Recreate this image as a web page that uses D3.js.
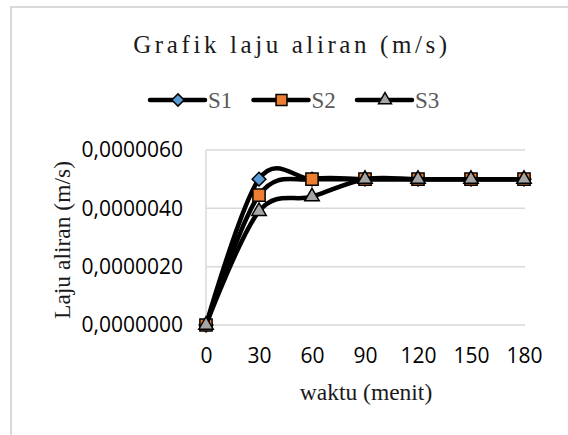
<!DOCTYPE html>
<html>
<head>
<meta charset="utf-8">
<script src="https://cdn.jsdelivr.net/npm/d3@7"></script>
<style>
  body { margin: 0; background: #fff; }
  svg { display: block; }
</style>
</head>
<body>
<div id="chart"></div>
<script>
// data
var waktu = [0, 30, 60, 90, 120, 150, 180];
var s1 = [0, 0.0000050, 0.0000050, 0.0000050, 0.0000050, 0.0000050, 0.0000050];
var s2 = [0, 0.00000445, 0.0000050, 0.0000050, 0.0000050, 0.0000050, 0.0000050];
var s3 = [0, 0.0000039, 0.0000044, 0.0000050, 0.0000050, 0.0000050, 0.0000050];
var seriesNames = ["S1", "S2", "S3"];
var xTicks = [0, 30, 60, 90, 120, 150, 180];
var yTicks = [0, 0.000002, 0.000004, 0.000006];

var W = 568, H = 435;
var margin = {top: 150, right: 44, bottom: 110, left: 206},
    width = 524 - margin.left,
    height = 325 - margin.top;

var svg = d3.select("#chart")
  .append("svg")
  .attr("width", W)
  .attr("height", H);

// chart border
svg.append("rect")
  .attr("x", 11).attr("y", 7)
  .attr("width", 700).attr("height", 600)
  .attr("fill", "#fff")
  .attr("stroke", "#d9d9d9")
  .attr("stroke-width", 2);

var g = svg.append("g")
  .attr("transform", "translate(" + margin.left + "," + margin.top + ")");

var x = d3.scaleLinear().domain([0, 180]).range([0, width]);
var y = d3.scaleLinear().domain([0, 0.000006]).range([height, 0]);

var locale = d3.formatLocale({decimal: ",", thousands: ".", grouping: [3], currency: ["", ""]});
var fmtY = locale.format(".7f");

// gridlines
g.selectAll(".grid")
  .data(yTicks)
  .enter()
  .append("line")
  .attr("x1", 0).attr("x2", width + 1)
  .attr("y1", function(d) { return y(d); })
  .attr("y2", function(d) { return y(d); })
  .attr("stroke", "#d9d9d9")
  .attr("stroke-width", 1.5);

g.append("line")
  .attr("x1", 0).attr("x2", 0)
  .attr("y1", 0).attr("y2", height)
  .attr("stroke", "#d9d9d9")
  .attr("stroke-width", 1.5);

// y axis
var yAxis = g.append("g")
  .attr("transform", "translate(-23,0)")
  .call(d3.axisLeft(y).tickValues(yTicks).tickFormat(fmtY).tickSize(0).tickPadding(0));
yAxis.select(".domain").remove();
yAxis.selectAll("text")
  .attr("font-family", "'Open Sans', sans-serif")
  .attr("font-size", 21)
  .attr("fill", "#000");

// x axis
var xAxis = g.append("g")
  .attr("transform", "translate(0," + height + ")")
  .call(d3.axisBottom(x).tickValues(xTicks).tickSize(0).tickPadding(0));
xAxis.select(".domain").remove();
xAxis.selectAll("text")
  .attr("y", 38)
  .attr("dy", 0)
  .attr("font-family", "'Open Sans', sans-serif")
  .attr("font-size", 21)
  .attr("fill", "#000");

// lines and markers
var line = d3.line()
  .x(function(d) { return x(d[0]); })
  .y(function(d) { return y(d[1]); })
  .curve(d3.curveCardinal.tension(0));

var fills = ["#5b9bd5", "#ed7d31", "#a5a5a5"];
var symbols = [d3.symbolDiamond2, d3.symbolSquare2, d3.symbolTriangle2];
var sizes = [120, 190, 150];
var allSeries = [s1, s2, s3];

allSeries.forEach(function(vals, i) {
  var pts = waktu.map(function(t, j) { return [t, vals[j]]; });
  g.append("path")
    .datum(pts)
    .attr("d", line)
    .attr("fill", "none")
    .attr("stroke", "#000")
    .attr("stroke-width", 4.5)
    .attr("stroke-linejoin", "round");
  g.selectAll(".m" + i)
    .data(pts)
    .enter()
    .append("path")
    .attr("transform", function(d) { return "translate(" + x(d[0]) + "," + y(d[1]) + ")"; })
    .attr("d", d3.symbol().type(symbols[i]).size(sizes[i]))
    .attr("fill", fills[i])
    .attr("stroke", "#000")
    .attr("stroke-width", 1.5);
});

// title
svg.append("text")
  .attr("x", 292).attr("y", 53)
  .attr("text-anchor", "middle")
  .attr("font-family", "'Liberation Serif', serif")
  .attr("font-size", 25)
  .attr("letter-spacing", 3.6)
  .attr("fill", "#1a1a1a")
  .text("Grafik laju aliran (m/s)");

// legend
var legend = svg.append("g").attr("transform", "translate(150,100)");
seriesNames.forEach(function(name, i) {
  var lg = legend.append("g").attr("transform", "translate(" + (i * 103.5) + ",0)");
  lg.append("line")
    .attr("x1", 0).attr("x2", 55)
    .attr("stroke", "#000").attr("stroke-width", 4.5)
    .attr("stroke-linecap", "round");
  lg.append("path")
    .attr("transform", "translate(28,0)")
    .attr("d", d3.symbol().type(symbols[i]).size(sizes[i] * 0.8))
    .attr("fill", fills[i])
    .attr("stroke", "#000")
    .attr("stroke-width", 1.5);
  lg.append("text")
    .attr("x", 58).attr("y", 7.5)
    .attr("font-family", "'Liberation Serif', serif")
    .attr("font-size", 23)
    .attr("fill", "#595959")
    .text(name);
});

// axis titles
svg.append("text")
  .attr("x", 366).attr("y", 400)
  .attr("text-anchor", "middle")
  .attr("font-family", "'Liberation Serif', serif")
  .attr("font-size", 23.5)
  .attr("fill", "#1a1a1a")
  .text("waktu (menit)");

svg.append("text")
  .attr("transform", "translate(70,240) rotate(-90)")
  .attr("text-anchor", "middle")
  .attr("font-family", "'Liberation Serif', serif")
  .attr("font-size", 23.5)
  .attr("fill", "#1a1a1a")
  .text("Laju aliran (m/s)");
</script>
</body>
</html>
